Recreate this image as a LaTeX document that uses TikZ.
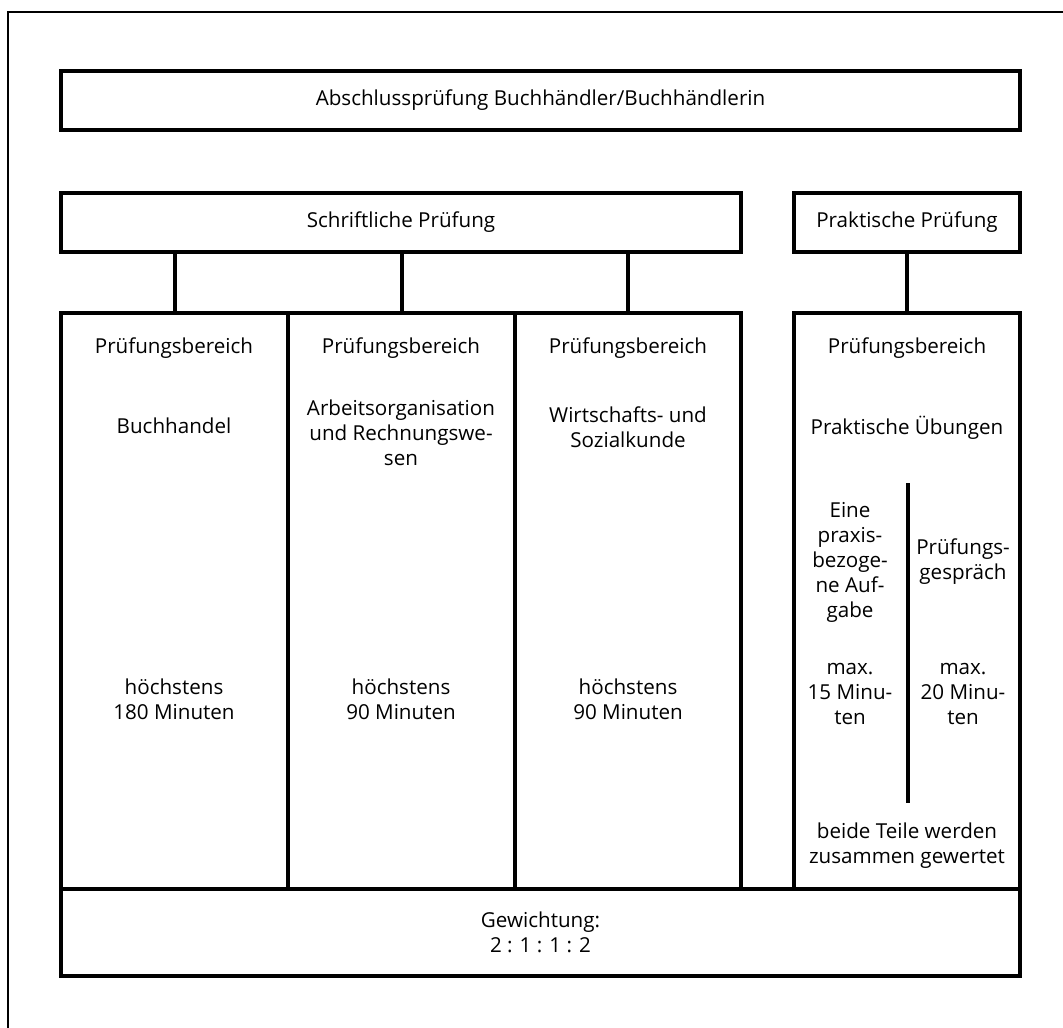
\documentclass[tikz,border=0pt]{standalone}
\usepackage{fontspec}
\setmainfont{Open Sans}
\begin{document}
\begin{tikzpicture}[x=0.5pt,y=-0.5pt,
    every node/.style={font=\fontsize{10.3}{12.5}\selectfont},
    box/.style={draw,line width=2pt,inner sep=0pt,minimum height=29.5pt},
    col/.style={draw,line width=2pt,inner sep=0pt,minimum width=113.5pt,minimum height=288pt},
    txt/.style={align=center,inner sep=0pt}]
    \useasboundingbox (0,0) rectangle (1063,1027);
    \draw[line width=1pt] (8,12) rectangle (1080,1045);

    \node[box,minimum width=479.5pt] (titel) at (540.5,100.5) {Abschlussprüfung Buchhändler/Buchhändlerin};
    \node[box,minimum width=340pt] (schrift) at (401,222.5) {Schriftliche Prüfung};
    \node[box,minimum width=113pt] (prakt) at (907,222.5) {Praktische Prüfung};

    \node[col] (col1) at (174.5,601) {};
    \node[col] (col2) at (401.5,601) {};
    \node[col,minimum width=113pt] (col3) at (628,601) {};
    \node[col,minimum width=113pt] (col4) at (907,601) {};
    \node[box,minimum width=479.5pt,minimum height=43.5pt] (gewicht) at (540.5,932.5) {};

    \draw[line width=2pt] (col1.north) -- (col1.north |- schrift.south);
    \draw[line width=2pt] (col2.north) -- (col2.north |- schrift.south);
    \draw[line width=2pt] (col3.north) -- (col3.north |- schrift.south);
    \draw[line width=2pt] (col4.north) -- (prakt.south);

    % Schriftliche Pruefung
    \node[txt] (ber1) at (174,348) {Prüfungsbereich};
    \node[txt] (ber2) at (401,348) {Prüfungsbereich};
    \node[txt] (ber3) at (628,348) {Prüfungsbereich};
    \node[txt] (fach1) at (174,426) {Buchhandel};
    \node[txt] (fach2) at (401,433) {Arbeitsorganisation\\und Rechnungswe-\\sen};
    \node[txt] (fach3) at (628,427) {Wirtschafts- und\\Sozialkunde};
    \node[txt] (zeit1) at (174,699) {höchstens\\180 Minuten};
    \node[txt] (zeit2) at (401,699) {höchstens\\90 Minuten};
    \node[txt] (zeit3) at (628,699) {höchstens\\90 Minuten};

    % Praktische Pruefung
    \node[txt] (ber4) at (907,348) {Prüfungsbereich};
    \node[txt] (fach4) at (907,428) {Praktische Übungen};
    \coordinate (teiltop) at (908,483);
    \coordinate (teilbot) at (908,803);
    \draw[line width=2pt] (teiltop) -- (teilbot);
    \node[txt] (aufgabe) at (850,562) {Eine\\praxis-\\bezoge-\\ne Auf-\\gabe};
    \node[txt] (gespr) at (963,562) {Prüfungs-\\gespräch};
    \node[txt] (zeit4) at (850,694) {max.\\15 Minu-\\ten};
    \node[txt] (zeit5) at (963,694) {max.\\20 Minu-\\ten};
    \node[txt] (beide) at (907,846) {beide Teile werden\\zusammen gewertet};

    \node[txt] at (gewicht) {Gewichtung:\\2 : 1 : 1 : 2};
\end{tikzpicture}
\end{document}
